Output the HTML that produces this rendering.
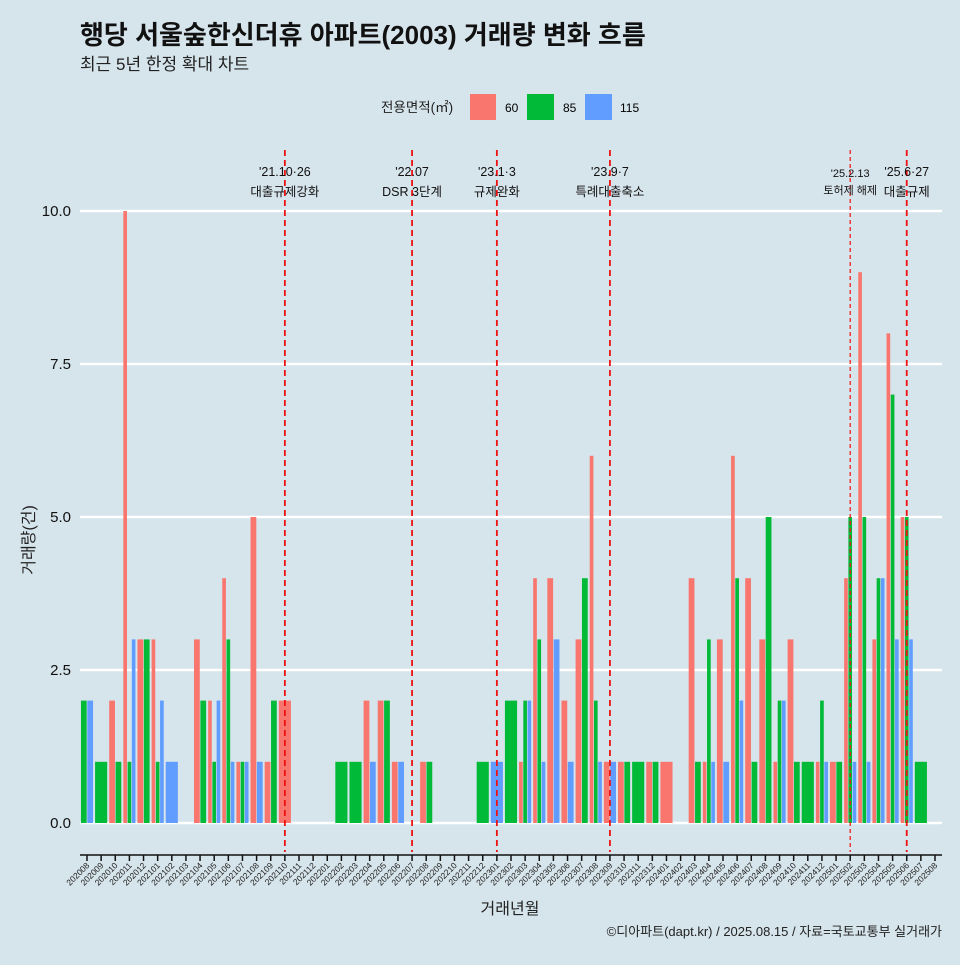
<!DOCTYPE html>
<html><head><meta charset="utf-8"><style>
body{margin:0;background:#d6e4eb;}
svg text{font-family:"Liberation Sans","Noto Sans CJK KR",sans-serif;}
</style></head><body>
<svg id="c" width="960" height="960" xmlns="http://www.w3.org/2000/svg">
<rect width="960" height="960" fill="#d6e4eb"/>
<text x="80" y="44" font-size="26" font-weight="bold" fill="#111">행당 서울숲한신더휴 아파트(2003) 거래량 변화 흐름</text>
<text x="80" y="70" font-size="17" fill="#222">최근 5년 한정 확대 차트</text>
<g>
<text x="381" y="112" font-size="13.5" fill="#222">전용면적(㎡)</text>
<rect x="470" y="94" width="26" height="26" fill="#f8766d"/>
<text x="505" y="112" font-size="12">60</text>
<rect x="527" y="94" width="27" height="26" fill="#00ba38"/>
<text x="563" y="112" font-size="12">85</text>
<rect x="585" y="94" width="27" height="26" fill="#619cff"/>
<text x="620" y="112" font-size="12">115</text>
</g>
<g id="grid"></g><g id="bars"></g><g id="vlines"></g><g id="axes"></g>
<text x="510" y="914" font-size="16" text-anchor="middle" fill="#222">거래년월</text>
<text transform="translate(34,540) rotate(-90)" font-size="16" text-anchor="middle" fill="#222">거래량(건)</text>
<text x="942" y="936" font-size="13" text-anchor="end" fill="#222">©디아파트(dapt.kr) / 2025.08.15 / 자료=국토교통부 실거래가</text>
</svg>
<script>
const months=[];for(let y=2020;y<=2025;y++)for(let m=1;m<=12;m++){const k=y*100+m;if(k>=202008&&k<=202508)months.push(String(k));}
const s60={"202010":2,"202011":10,"202012":3,"202101":3,"202104":3,"202105":2,"202106":4,"202107":1,"202108":5,"202109":1,"202110":2,"202204":2,"202205":2,"202206":1,"202208":1,"202303":1,"202304":4,"202305":4,"202306":2,"202307":3,"202308":6,"202309":1,"202310":1,"202312":1,"202401":1,"202403":4,"202404":1,"202405":3,"202406":6,"202407":4,"202408":3,"202409":1,"202410":3,"202412":1,"202501":1,"202502":4,"202503":9,"202504":3,"202505":8,"202506":5};
const s85={"202008":2,"202009":1,"202010":1,"202011":1,"202012":3,"202101":1,"202104":2,"202105":1,"202106":3,"202107":1,"202109":2,"202202":1,"202203":1,"202205":2,"202208":1,"202212":1,"202302":2,"202303":2,"202304":3,"202307":4,"202308":2,"202310":1,"202311":1,"202312":1,"202403":1,"202404":3,"202406":4,"202407":1,"202408":5,"202409":2,"202410":1,"202411":1,"202412":2,"202501":1,"202502":5,"202503":5,"202504":4,"202505":7,"202506":5,"202507":1};
const s115={"202008":2,"202011":3,"202101":2,"202102":1,"202105":2,"202106":1,"202107":1,"202108":1,"202204":1,"202206":1,"202301":1,"202303":2,"202304":1,"202305":3,"202306":1,"202308":1,"202309":1,"202404":1,"202405":1,"202406":2,"202409":2,"202412":1,"202502":1,"202503":1,"202504":4,"202505":3,"202506":3};
const yTicks=[0,2.5,5,7.5,10];
const yTickLabels=["0.0","2.5","5.0","7.5","10.0"];
const events=[{m:"202110",l1:"'21.10·26",l2:"대출규제강화"},{m:"202207",l1:"'22.07",l2:"DSR 3단계"},{m:"202301",l1:"'23.1·3",l2:"규제완화"},{m:"202309",l1:"'23.9·7",l2:"특례대출축소"},{m:"202502",l1:"'25.2.13",l2:"토허제 해제",thin:true},{m:"202506",l1:"'25.6·27",l2:"대출규제"}];
const NS="http://www.w3.org/2000/svg";
const x0=87,step=(935-87)/60,yZ=823,yU=61.2;
const X=i=>x0+i*step, Y=v=>yZ-v*yU;
function mk(t,a,p){const e=document.createElementNS(NS,t);for(const k in a)e.setAttribute(k,a[k]);document.getElementById(p).appendChild(e);return e;}
yTicks.forEach((v,i)=>{
 const g=mk('line',{x1:80,x2:942,y1:Y(v),y2:Y(v),stroke:'#fff','stroke-width':2.5},'grid');
 
 
 const t=mk('text',{x:71,y:Y(v)+5,'font-size':15,'text-anchor':'end',fill:'#111'},'axes');t.textContent=yTickLabels[i];
 
 
});
const series=[[s60,'#f8766d','60'],[s85,'#00ba38','85'],[s115,'#619cff','115']];
months.forEach((m,i)=>{
 const pres=series.filter(s=>s[0][m]);const w=step*0.9;const bw=w/Math.max(pres.length,1);
 pres.forEach((s,j)=>{const v=s[0][m];
  const r=mk('rect',{x:X(i)-w/2+j*bw+0.3,y:Y(v),width:bw-0.6,height:v*yU,fill:s[1]},'bars');
  
  
 });
 const tk=mk('line',{x1:X(i),x2:X(i),y1:855,y2:861,stroke:'#111','stroke-width':1.5},'axes');
 
 
 const tl=mk('text',{x:X(i)+3,y:866,'font-size':8.5,'text-anchor':'end',fill:'#222',transform:`rotate(-45 ${X(i)+3} 866)`},'axes');tl.textContent=m;
 
 
});
const ax=mk('line',{x1:80,x2:942,y1:855,y2:855,stroke:'#111','stroke-width':1.5},'axes');


events.forEach(e=>{const i=months.indexOf(e.m);const x=X(i);
 const l=mk('line',{x1:x,x2:x,y1:150,y2:852,stroke:'#ee1111','stroke-width':e.thin?1.2:1.8,'stroke-dasharray':e.thin?'4,3':'6,4'},'vlines');
 
 
 const fs=e.thin?11:12.5;
 const a=mk('text',{x:x,y:e.thin?177:176,'font-size':fs,'text-anchor':'middle',fill:'#111'},'vlines');a.textContent=e.l1;
 
 
 const b=mk('text',{x:x,y:e.thin?194:196,'font-size':fs,'text-anchor':'middle',fill:'#111'},'vlines');b.textContent=e.l2;
 
 
});
</script>
</body></html>
